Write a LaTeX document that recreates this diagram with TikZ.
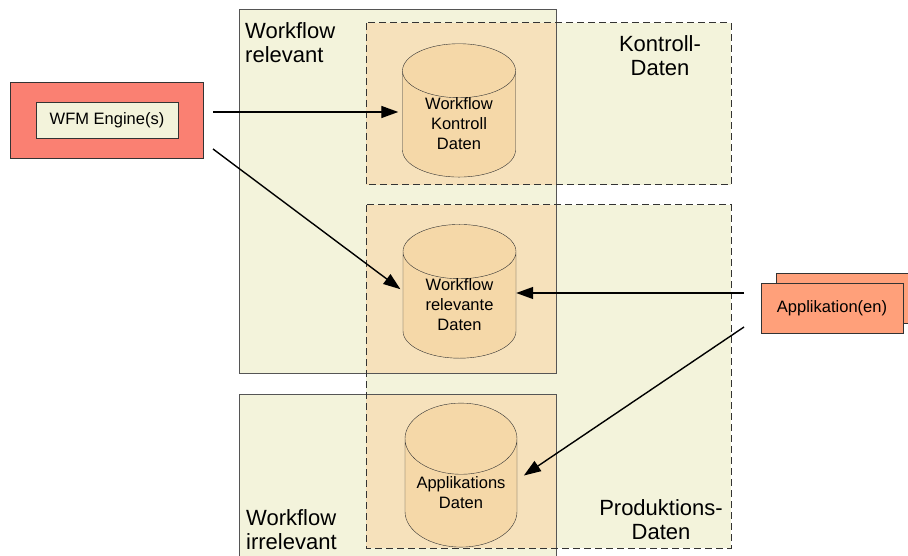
\documentclass[tikz,border=0pt]{standalone}
\usepackage{fontspec}
\setmainfont{Liberation Sans}
\usetikzlibrary{shapes.geometric,arrows.meta}

\definecolor{wfyellow}{RGB}{243,243,219}
\definecolor{overlap}{RGB}{246,225,187}
\definecolor{dbfill}{RGB}{245,216,168}
\definecolor{enginered}{RGB}{250,128,114}
\definecolor{appsalmon}{RGB}{255,160,122}
\definecolor{boxgray}{RGB}{85,85,85}

\tikzset{
  region/.style={draw=boxgray, line width=1pt},
  datazone/.style={draw=black!80, line width=1pt, dash pattern=on 7pt off 4pt},
  db/.style={cylinder, shape border rotate=90, draw=black!80, fill=dbfill,
    aspect=0.8, minimum width=113pt, minimum height=133pt, inner sep=0pt,
    align=center, font=\fontsize{16.5}{20}\selectfont},
  bigtext/.style={font=\fontsize{22}{24}\selectfont, inner sep=0pt},
  arr/.style={-{Triangle[length=17pt,width=12pt]}, line width=1.4pt},
}

\begin{document}
\begin{tikzpicture}[x=1pt,y=-1pt]
  \useasboundingbox (0,0) rectangle (908,556);

  % data zones and workflow regions
  \fill[wfyellow] (366,23) rectangle (731,185);
  \fill[wfyellow] (366,205) rectangle (731,548);
  \fill[wfyellow] (239,10) rectangle (556,373);
  \fill[wfyellow] (239,394) rectangle (556,570);
  \fill[overlap] (366,23) rectangle (556,185);
  \fill[overlap] (366,205) rectangle (556,373);
  \fill[overlap] (366,394) rectangle (556,548);
  \draw[region] (239,10) rectangle (556,373);
  \draw[region] (239,394) rectangle (556,570);
  \draw[datazone] (366,23) rectangle (731,185);
  \draw[datazone] (366,205) rectangle (731,548);

  \begin{scope}[every node/.style={bigtext}]
    \node[anchor=north west, align=left] (relv)  at (245,22)  {Workflow\\relevant};
    \node[anchor=west, align=left]       (irrel) at (246,530) {Workflow\\irrelevant};
    \node[align=center] (kontr) at (660,56)  {Kontroll-\\Daten};
    \node[align=center] (prod)  at (661,520) {Produktions-\\Daten};
  \end{scope}

  \begin{scope}[every node/.style={db}]
    \node (ctrl) at (459,124)   {Workflow\\Kontroll\\Daten};
    \node (rel)  at (459.5,305) {Workflow\\relevante\\Daten};
    \node[minimum height=144pt, minimum width=112pt] (appdb) at (461,493) {Applikations\\Daten};
  \end{scope}

  \begin{scope}[every node/.style={draw=black!80, line width=0.8pt, font=\fontsize{16.5}{20}\selectfont}]
    \node[fill=enginered, minimum width=193pt, minimum height=76pt] (wfm) at (106.5,120) {};
    \node[fill=wfyellow, minimum width=142pt, minimum height=36pt] (wfmin) at (107,120) {WFM Engine(s)};
    \node[fill=appsalmon, minimum width=142pt, minimum height=50pt] (appback) at (847,298) {};
    \node[fill=appsalmon, minimum width=142pt, minimum height=50pt] (app) at (832,308) {Applikation(en)};
  \end{scope}

  \coordinate (wfmout1) at (213,112);
  \coordinate (wfmout2) at (213,149);
  \coordinate (appout1) at (744,293);
  \coordinate (appout2) at (744,327);

  \path (wfmout1) edge[arr, shorten >=4pt] (wfmout1 -| ctrl.west);
  \path (wfmout2) edge[arr, shorten >=3pt] ([yshift=14pt]rel.west);
  \path (appout1) edge[arr] (appout1 -| rel.east);
  \path (appout2) edge[arr, shorten >=8pt] ([yshift=13pt]appdb.east);

\end{tikzpicture}
\end{document}
